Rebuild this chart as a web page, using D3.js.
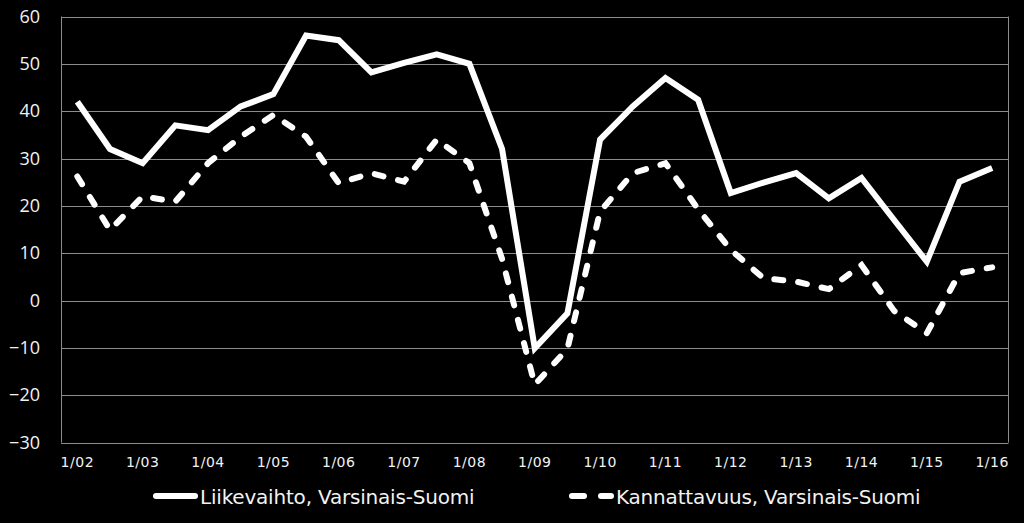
<!DOCTYPE html>
<html lang="fi">
	<head>
		<meta charset="utf-8">
		<title>Liikevaihto ja kannattavuus</title>
		<script type="text/javascript" src="https://cdn.jsdelivr.net/npm/d3@7"></script>
		<style type="text/css">
			body { margin: 0; background: #000; }
			svg { display: block; }
		</style>
	</head>
	<body>
		<script type="text/javascript">
			//Data, half-yearly points from 1/02 to 1/16
			var periods = ["1/02","7/02","1/03","7/03","1/04","7/04","1/05","7/05","1/06","7/06",
			               "1/07","7/07","1/08","7/08","1/09","7/09","1/10","7/10","1/11","7/11",
			               "1/12","7/12","1/13","7/13","1/14","7/14","1/15","7/15","1/16"];

			var liikevaihto = [42, 32, 29, 37, 36, 41, 43.6, 56, 55, 48.2,
			                   50.2, 52, 50, 32, -10.1, -2.7, 34, 41, 47, 42.4,
			                   22.7, 24.9, 26.9, 21.6, 25.9, 17, 8.2, 25.1, 28];

			var kannattavuus = [26.2, 14.9, 22, 20.9, 29, 34.6, 39.2, 34.6, 24.8, 26.9,
			                    25.1, 34, 29, 8.8, -17.8, -10.2, 18.8, 26.9, 29, 19.3,
			                    10.7, 4.7, 4, 2.4, 7.5, -2.2, -6.9, 5.8, 7];

			var yTicks = [-30, -20, -10, 0, 10, 20, 30, 40, 50, 60];
			var seriesNames = ["Liikevaihto, Varsinais-Suomi", "Kannattavuus, Varsinais-Suomi"];

			//Width and height
			var w = 1024;
			var h = 523;
			var margin = {top: 16.5, right: 15.5, bottom: 80.5, left: 61};

			var svg = d3.select("body")
						.append("svg")
						.attr("width", w)
						.attr("height", h)
						.style("background", "#000");

			var x = d3.scaleBand()
					  .domain(periods)
					  .range([margin.left, w - margin.right]);

			var y = d3.scaleLinear()
					  .domain([-30, 60])
					  .range([h - margin.bottom, margin.top]);

			//Gridlines
			svg.append("g")
			   .selectAll("line")
			   .data(yTicks)
			   .enter()
			   .append("line")
			   .attr("x1", margin.left)
			   .attr("x2", w - margin.right)
			   .attr("y1", function(d) { return Math.round(y(d)) + 0.5; })
			   .attr("y2", function(d) { return Math.round(y(d)) + 0.5; })
			   .attr("stroke", "#8c8c8c")
			   .attr("stroke-width", 1);

			//Left axis line and right frame line
			svg.append("line")
			   .attr("x1", margin.left + 0.5).attr("x2", margin.left + 0.5)
			   .attr("y1", y(60)).attr("y2", y(-30))
			   .attr("stroke", "#8c8c8c");
			svg.append("line")
			   .attr("x1", w - margin.right).attr("x2", w - margin.right)
			   .attr("y1", y(60)).attr("y2", y(-30))
			   .attr("stroke", "#8c8c8c");

			//Y axis labels
			var yAxis = d3.axisLeft(y).tickValues(yTicks).tickSize(0).tickPadding(21);
			var gy = svg.append("g")
						.attr("transform", "translate(" + margin.left + ",0)")
						.call(yAxis);
			gy.select(".domain").remove();
			gy.selectAll("text")
			  .attr("fill", "#f2f2f2")
			  .style("font-family", "'Open Sans', sans-serif")
			  .style("font-size", "18px");

			//X axis labels, one per year
			var xAxis = d3.axisBottom(x)
						  .tickValues(periods.filter(function(d) { return d.indexOf("1/") === 0; }))
						  .tickSize(0)
						  .tickPadding(15);
			var gx = svg.append("g")
						.attr("transform", "translate(0," + y(-30) + ")")
						.call(xAxis);
			gx.select(".domain").remove();
			gx.selectAll("text")
			  .attr("fill", "#f2f2f2")
			  .style("font-family", "'DejaVu Sans', sans-serif")
			  .style("font-size", "14px")
			  .style("letter-spacing", "0.5px");

			//Lines
			var line = d3.line()
						 .x(function(d, i) { return x(periods[i]) + x.bandwidth() / 2; })
						 .y(function(d) { return y(d); });

			svg.append("path")
			   .datum(liikevaihto)
			   .attr("d", line)
			   .attr("fill", "none")
			   .attr("stroke", "#fff")
			   .attr("stroke-width", 6)
			   .attr("stroke-linejoin", "miter");

			svg.append("path")
			   .datum(kannattavuus)
			   .attr("d", line)
			   .attr("fill", "none")
			   .attr("stroke", "#fff")
			   .attr("stroke-width", 6)
			   .attr("stroke-linecap", "round")
			   .attr("stroke-dasharray", "9,15");

			//Legend
			var legendX = [153, 569];
			var legendY = 496;
			var legend = svg.append("g")
							.selectAll("g")
							.data(seriesNames)
							.enter()
							.append("g")
							.attr("transform", function(d, i) { return "translate(" + legendX[i] + "," + legendY + ")"; });

			legend.append("line")
				  .attr("x1", 3).attr("x2", 42)
				  .attr("y1", 0).attr("y2", 0)
				  .attr("stroke", "#fff")
				  .attr("stroke-width", 6)
				  .attr("stroke-linecap", "round")
				  .attr("stroke-dasharray", function(d, i) { return i === 1 ? "12,17" : null; });

			legend.append("text")
				  .attr("x", 47)
				  .attr("y", 7.5)
				  .attr("fill", "#f2f2f2")
				  .style("font-family", "'DejaVu Sans', sans-serif")
				  .style("font-size", "20px")
				  .style("letter-spacing", "-0.2px")
				  .text(function(d) { return d; });
		</script>
	</body>
</html>
